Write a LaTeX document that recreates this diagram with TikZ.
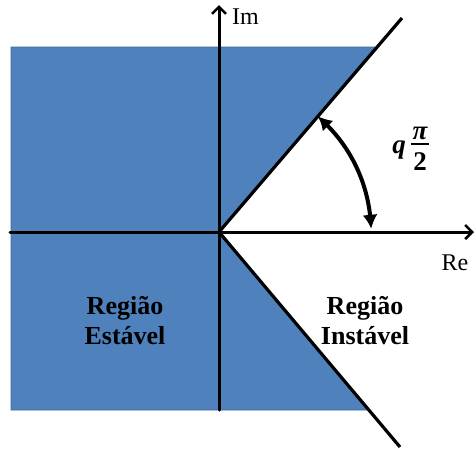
\documentclass[tikz,border=0pt]{standalone}
\usepackage{fontspec}
\setmainfont{Liberation Serif}
\usetikzlibrary{arrows.meta,bending}
\definecolor{regblue}{RGB}{79,129,189}
\definecolor{regedge}{RGB}{62,104,156}
\begin{document}
\begin{tikzpicture}[x=1pt,y=1pt,
  axisline/.style={line width=3pt,line cap=round},
  bound/.style={line width=3.2pt},
  lbl/.style={font=\fontsize{26}{30}\selectfont\bfseries,align=center,inner sep=0pt},
  axlbl/.style={font=\fontsize{24}{28}\selectfont,inner sep=0pt},
  angl/.style={font=\fontsize{27}{28}\selectfont\bfseries\itshape,inner sep=0pt}]
\useasboundingbox (0,0) rectangle (476,-448);
\coordinate (O) at (219,-232);
\coordinate (ImTip) at (219,-5);
\coordinate (ImEnd) at (219,-410);
\coordinate (ReTip) at (474,-232);
\coordinate (ReEnd) at (10,-232);
\coordinate (UpEnd) at (402,-18);
\coordinate (LoEnd) at (400,-447);
% stable region
\fill[regblue,draw=regedge,line width=0.6pt] (11,-47) -- (375,-47) -- (O) -- (369,-410) -- (11,-410) -- cycle;
% axes
\draw[axisline,-{Straight Barb[length=7pt,width=14pt,line width=2.5pt]}] (ImEnd) -- (ImTip);
\draw[axisline,-{Straight Barb[length=7pt,width=14pt,line width=2.5pt]}] (ReEnd) -- (ReTip);
% boundary lines
\draw[bound] (O) -- (UpEnd);
\draw[bound] (O) -- (LoEnd);
% angle arc
\draw[line width=4pt,{Latex[length=14pt,width=15pt,bend]}-{Latex[length=14pt,width=15pt,bend]}]
  ([shift={(1.2:152)}]O) arc[start angle=1.2, end angle=49.5, radius=152];
% labels
\node[axlbl,anchor=west] (im) at (232,-17) {Im};
\node[axlbl] (re) at (455,-263) {Re};
\node[angl] (q) at (399,-150) {q};
\node[angl] (pi) at (420,-133) {π};
\node[angl,font=\fontsize{27}{28}\selectfont\bfseries] (two) at (420,-162) {2};
\draw[line width=1.8pt] (411,-144) -- (429,-144);
\node[lbl] (est) at (125,-321) {Região\\Estável};
\node[lbl] (inst) at (365,-321) {Região\\Instável};
\end{tikzpicture}
\end{document}
